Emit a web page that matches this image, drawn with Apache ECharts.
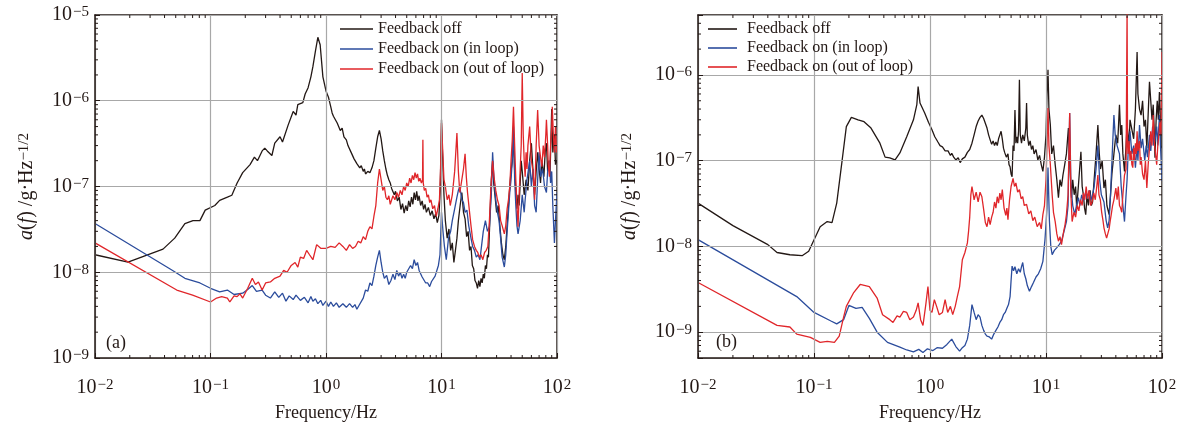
<!DOCTYPE html>
<html>
<head>
<meta charset="utf-8">
<script src="https://cdn.jsdelivr.net/npm/echarts@6/dist/echarts.min.js"></script>
<style>html,body{margin:0;padding:0;background:#fff}#c{width:1185px;height:423px}</style>
</head>
<body>
<div id="c"></div>
<script>
// ---------- data ----------
const seriesNames = ['Feedback off', 'Feedback on (in loop)', 'Feedback on (out of loop)'];
const panelLabels = ['(a)', '(b)'];
const xTitle = 'Frequency/Hz';
const xRange = [0.01, 100];
const yRangeA = [1e-9, 1e-5];
const yRangeB = [5e-10, 5e-6];
const xMinor = [0.02,0.03,0.04,0.05,0.06,0.07,0.08,0.09,0.2,0.3,0.4,0.5,0.6,0.7,0.8,0.9,2,3,4,5,6,7,8,9,20,30,40,50,60,70,80,90];
const yMinorA = [2e-9,3e-9,4e-9,5e-9,6e-9,7e-9,8e-9,9e-9,2e-8,3e-8,4e-8,5e-8,6e-8,7e-8,8e-8,9e-8,2e-7,3e-7,4e-7,5e-7,6e-7,7e-7,8e-7,9e-7,2e-6,3e-6,4e-6,5e-6,6e-6,7e-6,8e-6,9e-6];
const yMinorB = [6e-10,7e-10,8e-10,9e-10,2e-9,3e-9,4e-9,5e-9,6e-9,7e-9,8e-9,9e-9,2e-8,3e-8,4e-8,5e-8,6e-8,7e-8,8e-8,9e-8,2e-7,3e-7,4e-7,5e-7,6e-7,7e-7,8e-7,9e-7,2e-6,3e-6,4e-6];

// panel (a)
const offA = [[0.01,1.6e-8],[0.0193,1.31e-8],[0.0388,1.86e-8],[0.049,2.5e-8],[0.060,3.7e-8],[0.0705,4.0e-8],[0.081,4.0e-8],[0.09,5.3e-8],[0.109,6.0e-8],[0.12,6.9e-8],[0.14,7.5e-8],[0.153,7.9e-8],[0.17,1.1e-7],[0.19,1.45e-7],[0.22,1.8e-7],[0.24,2.2e-7],[0.255,2.0e-7],[0.28,2.6e-7],[0.295,2.8e-7],[0.31,2.6e-7],[0.34,2.3e-7],[0.36,3.2e-7],[0.40,3.8e-7],[0.42,3.3e-7],[0.47,5.2e-7],[0.52,7.5e-7],[0.55,6.8e-7],[0.57,9e-7],[0.63,9.5e-7],[0.66,1.2e-6],[0.70,1.42e-6],[0.74,1.9e-6],[0.77,2.5e-6],[0.81,3.8e-6],[0.85,5.5e-6],[0.89,4.5e-6],[0.94,1.9e-6],[1.0,1.3e-6],[1.05,1.1e-6],[1.1,8.5e-7],[1.13,7.2e-7],[1.16,6.6e-7],[1.2,6.9e-7],[1.25,5.5e-7],[1.29,5.8e-7],[1.33,4.5e-7],[1.38,4.8e-7],[1.43,3.8e-7],[1.5,3.5e-7],[1.55,3.0e-7],[1.6,3.1e-7],[1.65,2.5e-7],[1.7,2.4e-7],[1.75,2.1e-7],[1.8,2.2e-7],[1.85,1.85e-7],[1.9,1.9e-7],[1.96,1.65e-7],[2.02,1.75e-7],[2.1,1.5e-7],[2.15,1.6e-7],[2.2,1.4e-7],[2.3,1.5e-7],[2.4,1.45e-7],[2.5,1.65e-7],[2.6,2.0e-7],[2.7,2.8e-7],[2.8,3.8e-7],[2.9,4.5e-7],[3.0,3.6e-7],[3.1,2.6e-7],[3.2,2.0e-7],[3.3,1.6e-7],[3.4,1.35e-7],[3.5,1.2e-7],[3.6,1.1e-7],[3.7,9.5e-8],[3.8,1.0e-7],[3.9,8e-8],[4.0,8.8e-8],[4.15,6.8e-8],[4.3,7.5e-8],[4.45,5.4e-8],[4.6,6.3e-8],[4.75,4.9e-8],[4.9,6e-8],[5.05,5.2e-8],[5.2,6.8e-8],[5.35,5.8e-8],[5.5,7.5e-8],[5.65,6.2e-8],[5.8,8.5e-8],[5.95,7e-8],[6.1,8.8e-8],[6.25,6.8e-8],[6.4,7.8e-8],[6.6,6e-8],[6.8,6.8e-8],[7.0,5.4e-8],[7.2,6.2e-8],[7.4,5e-8],[7.7,5.7e-8],[8.0,4.6e-8],[8.3,5.2e-8],[8.6,4.2e-8],[8.9,4.8e-8],[9.2,3.8e-8],[9.5,4.6e-8],[9.75,9e-8],[10.0,6e-7],[10.2,2.5e-7],[10.5,8e-8],[10.8,4e-8],[11.2,2.5e-8],[11.6,3.2e-8],[12.0,1.8e-8],[12.4,2.2e-8],[12.8,1.3e-8],[13.2,1.8e-8],[13.6,2.5e-8],[14.0,4e-8],[14.5,6e-8],[15.0,8.5e-8],[15.5,5e-8],[16.0,4.2e-8],[16.5,2.6e-8],[17.0,3e-8],[17.5,1.8e-8],[18.0,2e-8],[18.5,1.2e-8],[19.0,1.1e-8],[19.5,8e-9],[20.0,7.5e-9],[20.5,6.5e-9],[21,8e-9],[21.5,6.8e-9],[22,8.5e-9],[22.5,7.5e-9],[23,9.5e-9],[23.5,8.5e-9],[24,1.2e-8],[24.5,1.1e-8],[25,1.6e-8],[25.5,1.5e-8],[26,3e-8],[26.5,6e-8],[27,1.2e-7],[27.7,2e-7],[28.3,1.1e-7],[29,8e-8],[30,5e-8],[31,6e-8],[32,3.5e-8],[33,2.2e-8],[34,1.6e-8],[35,1.4e-8],[36,2e-8],[37,3.5e-8],[38,6e-8],[39,1e-7],[40,1.5e-7],[41,2e-7],[42,4e-7],[43,1.5e-7],[44,9e-8],[45,5.5e-8],[46,8e-8],[47,6e-8],[48,1.1e-7],[49,2e-7],[50,1.5e-7],[52,8e-8],[54,1.2e-7],[56,9e-8],[58,2e-7],[60,3.2e-7],[62,1.5e-7],[64,8e-8],[66,1.5e-7],[68,2.5e-7],[70,1.6e-7],[72,1.1e-7],[74,2e-7],[77,1.3e-7],[79,2.5e-7],[81,3.2e-7],[83,1.5e-7],[85,2e-7],[87,1.4e-7],[90,8e-7],[92,2.5e-7],[95,4e-7],[97,1.8e-7],[100,2e-7]];
const inA = [[0.01,3.7e-8],[0.047,1.05e-8],[0.06,8.5e-9],[0.081,7.5e-9],[0.1,6.5e-9],[0.12,5.9e-9],[0.14,6.2e-9],[0.16,5.5e-9],[0.19,5.7e-9],[0.21,6.3e-9],[0.23,7e-9],[0.25,6.0e-9],[0.28,6.2e-9],[0.3,5.4e-9],[0.33,5e-9],[0.36,5.9e-9],[0.39,5.1e-9],[0.42,5.7e-9],[0.45,4.6e-9],[0.48,5.3e-9],[0.52,4.8e-9],[0.55,5.4e-9],[0.6,4.7e-9],[0.65,5.1e-9],[0.7,4.4e-9],[0.74,5.2e-9],[0.77,4.6e-9],[0.81,4.9e-9],[0.85,4.3e-9],[0.9,4.7e-9],[0.94,4.1e-9],[1.0,4.6e-9],[1.05,4.0e-9],[1.1,4.5e-9],[1.16,4.0e-9],[1.23,4.4e-9],[1.3,3.9e-9],[1.4,4.3e-9],[1.5,3.9e-9],[1.6,4.3e-9],[1.7,3.9e-9],[1.78,4.2e-9],[1.85,3.7e-9],[1.93,4.1e-9],[2.0,4.2e-9],[2.1,5e-9],[2.2,6.2e-9],[2.3,6e-9],[2.4,7.5e-9],[2.5,7e-9],[2.6,9e-9],[2.7,1.2e-8],[2.8,1.5e-8],[2.9,1.8e-8],[3.0,1.3e-8],[3.1,1e-8],[3.2,8.5e-9],[3.35,9.2e-9],[3.5,7.2e-9],[3.65,8e-9],[3.8,9.5e-9],[3.95,8.2e-9],[4.1,1.05e-8],[4.25,9e-9],[4.4,1e-8],[4.55,8.5e-9],[4.7,9.5e-9],[4.85,8.5e-9],[5.0,1e-8],[5.2,9.5e-9],[5.4,1.2e-8],[5.6,1.1e-8],[5.8,1.4e-8],[6.0,1.2e-8],[6.2,1.3e-8],[6.4,1.05e-8],[6.6,1.1e-8],[6.8,8.8e-9],[7.0,9.2e-9],[7.3,7.5e-9],[7.6,7.5e-9],[7.9,6.8e-9],[8.2,7.8e-9],[8.5,7.5e-9],[8.8,9e-9],[9.1,9e-9],[9.4,1.2e-8],[9.7,1.6e-8],[10,5e-8],[10.3,3e-8],[10.6,2e-8],[11,1.4e-8],[11.5,2.5e-8],[12,3e-8],[12.4,4e-8],[13,5.5e-8],[13.6,7.5e-8],[14,9e-8],[14.4,1e-7],[15,7e-8],[15.5,6.5e-8],[16,5e-8],[16.6,5.3e-8],[17.2,3.5e-8],[18,2.5e-8],[18.6,2e-8],[19.3,1.8e-8],[20,1.5e-8],[20.8,1.6e-8],[21.5,1.4e-8],[22.2,2e-8],[23,3e-8],[24,4e-8],[25,3e-8],[26,3.4e-8],[27,8e-8],[27.7,2.5e-7],[28.5,1.2e-7],[29.5,7e-8],[30.5,5e-8],[31.5,4e-8],[32.5,2.5e-8],[33.5,1.5e-8],[35,1.15e-8],[36,1.6e-8],[37,3e-8],[38,5e-8],[39,8.5e-8],[40,1.2e-7],[41,2e-7],[42,5e-7],[43,1.2e-7],[44,6e-8],[45,3.5e-8],[46,2.8e-8],[48,4e-8],[50,8e-8],[52,5e-8],[53,7e-8],[55,1.2e-7],[58,2e-7],[60,1e-7],[62,1.6e-7],[64,6e-8],[66,5e-8],[68,1.2e-7],[70,2.5e-7],[72,1.3e-7],[75,1.6e-7],[78,1e-7],[81,8.5e-8],[83,1.5e-7],[86,2e-7],[88,1.1e-7],[90,1.5e-7],[92,6e-8],[95,2.2e-8],[97,4e-8],[100,8.5e-8]];
const outA = [[0.01,2.2e-8],[0.051,6.2e-9],[0.07,5.4e-9],[0.1,4.5e-9],[0.113,5e-9],[0.125,5.2e-9],[0.14,5e-9],[0.147,4.5e-9],[0.16,5.3e-9],[0.17,5.2e-9],[0.18,5.6e-9],[0.19,5e-9],[0.21,6.5e-9],[0.23,8.5e-9],[0.245,7.2e-9],[0.26,7.7e-9],[0.28,6.2e-9],[0.3,7.5e-9],[0.33,7.7e-9],[0.36,8.5e-9],[0.40,9e-9],[0.43,1.05e-8],[0.46,1e-8],[0.5,1.2e-8],[0.54,1.3e-8],[0.57,1.15e-8],[0.6,1.5e-8],[0.64,1.45e-8],[0.68,1.8e-8],[0.72,1.6e-8],[0.77,1.4e-8],[0.83,2.1e-8],[0.9,1.9e-8],[1.0,1.9e-8],[1.1,2.0e-8],[1.2,1.95e-8],[1.3,2.2e-8],[1.4,2.0e-8],[1.5,1.8e-8],[1.6,2.1e-8],[1.7,1.9e-8],[1.8,2.0e-8],[1.9,2.3e-8],[2.0,2.2e-8],[2.1,2.6e-8],[2.2,2.4e-8],[2.3,3e-8],[2.4,3.4e-8],[2.5,3.2e-8],[2.6,4.5e-8],[2.7,6e-8],[2.8,1.1e-7],[2.9,1.6e-7],[3.0,1.2e-7],[3.1,9e-8],[3.2,1e-7],[3.3,7.5e-8],[3.4,7e-8],[3.5,7.8e-8],[3.6,6.2e-8],[3.7,6.5e-8],[3.8,7.8e-8],[3.95,7e-8],[4.1,8.5e-8],[4.25,7.5e-8],[4.4,9e-8],[4.55,8e-8],[4.7,1e-7],[4.85,9e-8],[5.0,1.1e-7],[5.15,1e-7],[5.3,1.25e-7],[5.45,1.1e-7],[5.6,1.35e-7],[5.75,1.2e-7],[5.9,1.45e-7],[6.05,1.25e-7],[6.2,1.4e-7],[6.35,1.15e-7],[6.5,1.25e-7],[6.7,1.1e-7],[6.85,1.2e-7],[6.9,3.5e-7],[6.95,1.1e-7],[7.1,9e-8],[7.3,9.5e-8],[7.5,7.5e-8],[7.7,8e-8],[7.9,6.5e-8],[8.1,7e-8],[8.4,5.5e-8],[8.7,6e-8],[9.0,4.5e-8],[9.3,5.5e-8],[9.6,7e-8],[9.8,1.5e-7],[10,5.5e-7],[10.2,3e-7],[10.5,1.2e-7],[10.8,1e-7],[11.2,7e-8],[11.6,8e-8],[11.9,6e-8],[12.4,8e-8],[13,1.5e-7],[13.6,4.2e-7],[14,1.5e-7],[14.4,8.5e-8],[15,1.2e-7],[15.5,1.6e-7],[16,2.4e-7],[16.4,1.3e-7],[16.8,8.5e-8],[17.5,5e-8],[18,3.5e-8],[18.6,2.4e-8],[19.3,2e-8],[20,1.8e-8],[20.6,1.7e-8],[21.3,1.5e-8],[22,1.6e-8],[22.8,1.4e-8],[23.6,1.7e-8],[24.4,1.8e-8],[25.2,2e-8],[26,4e-8],[26.8,1e-7],[27.7,2e-7],[28.5,1.3e-7],[29.5,9e-8],[30.5,7e-8],[31.5,6e-8],[32.5,4e-8],[33.5,3.5e-8],[35,2.8e-8],[36,3.5e-8],[37,5.5e-8],[38,7e-8],[39,1e-7],[40,2e-7],[41,3.5e-7],[42,8.5e-7],[43,3e-7],[44,1.2e-7],[45,6e-8],[46,3.4e-8],[47,8e-8],[48,1.6e-7],[49,3e-7],[50,2.1e-6],[51,4e-7],[52,2e-7],[53,1.3e-7],[54,2.5e-7],[55,1.6e-7],[56,3e-7],[58,5e-7],[60,2e-7],[62,1.5e-7],[64,7e-8],[65,1.5e-7],[66,3e-7],[68,7.8e-7],[70,3e-7],[72,2.2e-7],[74,1.7e-7],[76,3e-7],[78,2.2e-7],[80,4e-7],[81,6e-7],[83,3e-7],[84,1.8e-7],[86,1.3e-7],[88,3e-7],[90,5e-7],[91,8.5e-7],[93,4e-7],[95,2.5e-7],[97,5e-7],[99,2.5e-7],[100,3e-7]];

// panel (b)
const offB = [[0.01,3.2e-8],[0.02,1.75e-8],[0.04,1.05e-8],[0.048,8.5e-9],[0.062,8e-9],[0.079,7.8e-9],[0.09,8.8e-9],[0.113,1.7e-8],[0.13,1.95e-8],[0.143,1.9e-8],[0.157,3.2e-8],[0.175,1.02e-7],[0.19,2.5e-7],[0.21,3.2e-7],[0.24,3.0e-7],[0.27,2.85e-7],[0.31,2.4e-7],[0.37,1.6e-7],[0.41,1.1e-7],[0.45,1.08e-7],[0.5,1.02e-7],[0.55,1.23e-7],[0.63,1.9e-7],[0.72,3e-7],[0.77,4.5e-7],[0.79,7.3e-7],[0.82,4.7e-7],[0.9,3.6e-7],[0.97,2.8e-7],[1.04,2.3e-7],[1.1,1.9e-7],[1.17,1.65e-7],[1.22,1.5e-7],[1.28,1.45e-7],[1.35,1.3e-7],[1.43,1.3e-7],[1.5,1.15e-7],[1.54,1.22e-7],[1.6,1.1e-7],[1.67,1.02e-7],[1.75,1.08e-7],[1.82,9.5e-8],[1.9,1.05e-7],[2.0,1.1e-7],[2.1,1.25e-7],[2.2,1.35e-7],[2.3,1.6e-7],[2.4,2e-7],[2.5,2.5e-7],[2.6,2.9e-7],[2.7,3.2e-7],[2.8,3.4e-7],[2.9,3.1e-7],[3.0,3e-7],[3.1,2.4e-7],[3.2,2e-7],[3.3,1.75e-7],[3.4,1.55e-7],[3.5,1.7e-7],[3.6,1.5e-7],[3.7,1.65e-7],[3.8,1.5e-7],[3.9,1.8e-7],[4.0,2.0e-7],[4.1,2.2e-7],[4.2,1.8e-7],[4.3,1.4e-7],[4.4,1.25e-7],[4.55,1.1e-7],[4.7,1.2e-7],[4.8,9e-8],[4.9,8.5e-8],[5.0,7e-8],[5.1,6.5e-8],[5.2,1.5e-7],[5.3,1.3e-7],[5.4,3.9e-7],[5.5,1.6e-7],[5.6,1.9e-7],[5.7,1.6e-7],[5.8,2.2e-7],[5.9,8.8e-7],[6.0,2e-7],[6.15,1.6e-7],[6.3,2e-7],[6.5,1.7e-7],[6.7,2.4e-7],[6.8,4.7e-7],[6.9,2e-7],[7.1,1.5e-7],[7.3,1.7e-7],[7.5,1.35e-7],[7.7,1.5e-7],[7.9,1.2e-7],[8.2,1.35e-7],[8.5,1.02e-7],[8.8,1.15e-7],[9.1,9e-8],[9.4,7.5e-8],[9.7,1.1e-7],[10.0,2e-7],[10.2,6e-7],[10.4,1.15e-6],[10.6,4e-7],[10.9,2.6e-7],[11.2,1.2e-7],[11.6,1.5e-7],[12,9e-8],[12.4,6e-8],[12.8,3.7e-8],[13.2,6e-8],[13.6,5e-8],[14,6.8e-8],[14.5,9e-8],[15,1.2e-7],[15.6,2.4e-7],[16.1,8e-8],[16.6,3.7e-8],[17,6e-8],[17.5,4e-8],[18,5e-8],[18.4,2.8e-8],[19,5e-8],[19.5,8e-8],[20,1.27e-7],[20.5,5e-8],[21,4e-8],[21.5,2.8e-8],[22,2.35e-8],[22.6,4e-8],[23.2,3e-8],[24,4.5e-8],[24.6,3e-8],[25.2,3.3e-8],[26,6e-8],[27,1.2e-7],[28,2.6e-7],[28.8,1.2e-7],[29.5,8e-8],[30.5,1e-7],[31.6,4.8e-8],[32.5,6e-8],[33.5,3e-8],[35,2.35e-8],[36,4e-8],[37,7e-8],[38.5,1.2e-7],[40,2e-7],[41.5,1.6e-7],[43,4.5e-7],[44,2e-7],[45,2.6e-7],[46,1.2e-7],[47.5,7.5e-8],[49,1.5e-7],[50,2.6e-7],[52,1.5e-7],[53,3e-7],[55,3.1e-7],[57,1.8e-7],[59,4e-7],[61,1.85e-6],[62,6e-7],[64,4e-7],[66,3.4e-7],[68,5e-7],[70,2.5e-7],[72,3e-7],[74,1.4e-7],[76,3.5e-7],[78,8.3e-7],[80,5e-7],[82,3e-7],[84,4.5e-7],[86,2e-7],[87,1.08e-7],[89,3e-7],[91,5e-7],[93,3e-7],[95,6.3e-7],[97,3e-7],[98,1.5e-7],[100,1.4e-7]];
const inB = [[0.01,1.2e-8],[0.071,2.6e-9],[0.1,1.7e-9],[0.14,1.35e-9],[0.157,1.25e-9],[0.18,1.4e-9],[0.2,2.05e-9],[0.23,1.9e-9],[0.26,1.95e-9],[0.3,1.45e-9],[0.35,1e-9],[0.43,7.6e-10],[0.55,6.7e-10],[0.63,6.2e-10],[0.72,5.9e-10],[0.8,6.3e-10],[0.87,5.8e-10],[0.95,6.4e-10],[1.06,6.1e-10],[1.15,6.6e-10],[1.28,6.5e-10],[1.4,7.2e-10],[1.54,8.3e-10],[1.67,6.8e-10],[1.8,6e-10],[1.9,6.6e-10],[2.0,7e-10],[2.1,8.3e-10],[2.2,1.2e-9],[2.3,2.1e-9],[2.4,1.7e-9],[2.5,1.4e-9],[2.6,1.6e-9],[2.7,1.5e-9],[2.8,1.2e-9],[2.9,1.05e-9],[3.0,9.5e-10],[3.1,9e-10],[3.25,8.8e-10],[3.4,8.3e-10],[3.55,9.5e-10],[3.7,1.05e-9],[3.85,1.15e-9],[4.0,1.3e-9],[4.15,1.4e-9],[4.3,1.6e-9],[4.45,1.7e-9],[4.6,1.9e-9],[4.75,2.1e-9],[4.9,2.6e-9],[5.0,4e-9],[5.1,5.9e-9],[5.25,5.2e-9],[5.4,5.8e-9],[5.6,4.8e-9],[5.8,5.5e-9],[6.0,5e-9],[6.15,5.8e-9],[6.3,6.5e-9],[6.5,4.8e-9],[6.7,4.2e-9],[6.9,3.5e-9],[7.2,3e-9],[7.5,3.4e-9],[7.8,3.8e-9],[8.2,4.4e-9],[8.6,4.8e-9],[9.0,5.5e-9],[9.4,6.7e-9],[9.8,1.2e-8],[10.2,2.8e-8],[10.4,8.3e-8],[10.7,2e-8],[11,1e-8],[11.3,8e-9],[11.8,9e-9],[12.4,9.7e-9],[13,1.05e-8],[13.6,1.15e-8],[14.3,1.5e-8],[15,1.95e-8],[15.5,3e-8],[16,3.6e-7],[16.4,5e-8],[17,3e-8],[17.7,2.35e-8],[18.3,3e-8],[19,3.7e-8],[19.6,3e-8],[20.3,4e-8],[21,3.4e-8],[22,4.3e-8],[22.8,3.6e-8],[23.6,4.5e-8],[24.4,3.5e-8],[25.2,4e-8],[26,5e-8],[27,8e-8],[28,1.5e-7],[29,6e-8],[30,4e-8],[31.6,3.3e-8],[33,2e-8],[34,1.65e-8],[35,2e-8],[36,4e-8],[37.5,1.5e-7],[38.5,3.4e-7],[39.5,2e-7],[41,1.5e-7],[43,1.2e-7],[44.5,5e-8],[46,3e-8],[47.5,1.95e-8],[49,4e-8],[50,6e-8],[51,1.2e-7],[53,2.2e-7],[55,1.2e-7],[57,1.5e-7],[59,8.3e-8],[61,1.5e-7],[62,1e-7],[64,2.6e-7],[66,1.4e-7],[68,1.8e-7],[71,1e-7],[73,1.5e-7],[75,1.1e-7],[78,2e-7],[80,1.3e-7],[83,2.5e-7],[85,1.5e-7],[87,1.7e-7],[90,2.5e-7],[92,1.5e-7],[95,3.4e-7],[97,1.5e-7],[100,5.8e-8]];
const outB = [[0.01,3.8e-9],[0.048,1.2e-9],[0.062,1.15e-9],[0.071,9.5e-10],[0.093,8.7e-10],[0.113,7.6e-10],[0.13,7.8e-10],[0.15,7.6e-10],[0.165,9e-10],[0.18,1.5e-9],[0.19,2e-9],[0.22,2.9e-9],[0.25,3.6e-9],[0.3,3.4e-9],[0.35,2.5e-9],[0.39,1.6e-9],[0.45,1.4e-9],[0.48,1.3e-9],[0.52,1.55e-9],[0.55,1.5e-9],[0.59,1.75e-9],[0.63,1.7e-9],[0.67,1.4e-9],[0.72,1.5e-9],[0.76,1.8e-9],[0.79,2.2e-9],[0.83,1.4e-9],[0.87,1.2e-9],[0.92,2.1e-9],[0.96,3.4e-9],[1.0,1.8e-9],[1.04,1.7e-9],[1.09,2.4e-9],[1.14,2e-9],[1.2,1.6e-9],[1.28,1.7e-9],[1.35,2.4e-9],[1.42,1.7e-9],[1.5,2e-9],[1.57,1.6e-9],[1.65,2e-9],[1.72,2.6e-9],[1.8,3.4e-9],[1.9,7e-9],[2.0,8.5e-9],[2.1,1.1e-8],[2.15,1.5e-8],[2.2,2.2e-8],[2.25,4e-8],[2.3,5e-8],[2.35,4.2e-8],[2.4,3.5e-8],[2.5,4.3e-8],[2.6,3.3e-8],[2.7,4.3e-8],[2.8,3.8e-8],[2.9,2.7e-8],[3.0,1.9e-8],[3.1,1.7e-8],[3.2,2.2e-8],[3.3,1.8e-8],[3.4,2.2e-8],[3.5,2.5e-8],[3.6,3.3e-8],[3.7,2.8e-8],[3.8,3.8e-8],[3.9,3.2e-8],[4.0,4.2e-8],[4.1,3.5e-8],[4.2,4.6e-8],[4.35,2.8e-8],[4.5,2.3e-8],[4.6,2.8e-8],[4.7,2.05e-8],[4.85,3.5e-8],[5.0,5e-8],[5.2,6.2e-8],[5.35,5e-8],[5.5,5.5e-8],[5.7,4.3e-8],[5.9,4.6e-8],[6.1,3.6e-8],[6.3,3.8e-8],[6.5,3e-8],[6.8,3.1e-8],[7.1,2.4e-8],[7.4,2.6e-8],[7.7,2.0e-8],[8.0,2.2e-8],[8.4,1.7e-8],[8.8,1.9e-8],[9.1,1.6e-8],[9.4,2.35e-8],[9.7,3e-8],[10.0,6e-8],[10.2,1.5e-7],[10.4,4.1e-7],[10.6,1.5e-7],[10.9,9e-8],[11.3,4e-8],[11.6,2.5e-8],[12,1.95e-8],[12.4,1.4e-8],[12.8,1.15e-8],[13.2,1.3e-8],[13.6,1.05e-8],[14.2,1.5e-8],[14.6,1.8e-8],[15,2.35e-8],[15.5,4e-8],[16,3.6e-7],[16.4,4e-8],[16.8,1.95e-8],[17.4,2.5e-8],[18,2.2e-8],[18.6,3e-8],[19.2,2.6e-8],[19.8,3.5e-8],[20.5,3e-8],[21,4.2e-8],[21.6,3.5e-8],[22.2,5e-8],[22.8,3.6e-8],[23.5,4.5e-8],[24.2,3e-8],[25,3.3e-8],[25.8,4.2e-8],[26.6,3.5e-8],[27.4,5e-8],[28,6.8e-8],[28.6,4e-8],[29.4,3.5e-8],[30.2,2.5e-8],[31,2e-8],[31.6,1.65e-8],[32.5,1.4e-8],[33.3,1.25e-8],[34,1.25e-8],[35,1.6e-8],[35.8,2e-8],[36.5,2.35e-8],[37.5,3e-8],[38.5,3.5e-8],[40,4.8e-8],[41,3.5e-8],[42,5e-8],[43,3e-8],[44,2.8e-8],[45,2.5e-8],[46,4e-8],[47.5,6.8e-8],[49,8e-8],[50,6e-6],[50.5,1.5e-7],[51,1.2e-7],[52,1.7e-7],[53,1e-7],[54,1.3e-7],[55,9e-8],[56,8.3e-8],[57,1.4e-7],[58,1e-7],[59,1.6e-7],[60,1.2e-7],[61,2.2e-7],[62,1.3e-7],[64,1.7e-7],[65,9e-8],[66,1.1e-7],[68,7e-8],[70,6e-8],[72,1e-7],[74,4.8e-8],[76,9e-8],[78,1.4e-7],[80,2.2e-7],[82,1.5e-7],[84,3.4e-7],[86,1.6e-7],[88,1.2e-7],[90,9e-8],[92,1.5e-7],[94,2e-7],[96,2.8e-7],[98,2e-7],[100,1.85e-6]];

// ---------- styling ----------
const FONT = 'Liberation Serif';
const INK = '#231815';
const COLORS = ['#231815', '#2b4c9c', '#e0262a'];
const GRIDC = '#a8a8a8';

function sup(v) {
  const e = Math.log10(v), r = Math.round(e);
  if (Math.abs(e - r) > 1e-6) return '';
  return '{b|10}{s|' + (r < 0 ? '\u2212' + (-r) : r) + '}';
}
const labRich = {
  b: {fontFamily: FONT, fontSize: 20, color: INK, verticalAlign: 'middle', lineHeight: 20},
  s: {fontFamily: FONT, fontSize: 15, color: INK, verticalAlign: 'top', lineHeight: 12, padding: [0, 0, 0, 1]}
};

function axesFor(dim, grid, range) {
  const isX = dim === 'x';
  const base = {type: 'log', logBase: 10, gridIndex: grid, min: range[0], max: range[1]};
  const tick = {show: true, inside: true, length: 5, lineStyle: {color: INK, width: 1}};
  const line = {show: true, onZero: false, lineStyle: {color: INK, width: 1.5}};
  const main = Object.assign({}, base, {
    position: isX ? 'bottom' : 'left',
    axisLine: line, axisTick: tick,
    splitLine: {show: true, lineStyle: {color: GRIDC, width: 1.2}},
    axisLabel: {show: true, formatter: sup, rich: labRich, margin: isX ? 20 : 6, color: INK},
    z: 3
  });
  if (isX) {
    Object.assign(main, {name: xTitle, nameLocation: 'middle', nameGap: 46,
      nameTextStyle: {fontFamily: FONT, fontSize: 18, color: INK}});
  } else {
    Object.assign(main, {name: '{i|a}{r|(}{i|f}{r|) /g\u00b7Hz}{s|\u22121/2}', nameLocation: 'middle', nameGap: 58, nameRotate: 90,
      nameTextStyle: {rich: {
        i: {fontFamily: FONT, fontStyle: 'italic', fontSize: 20, color: INK, verticalAlign: 'middle', lineHeight: 20},
        r: {fontFamily: FONT, fontSize: 20, color: INK, verticalAlign: 'middle', lineHeight: 20},
        s: {fontFamily: FONT, fontSize: 15, color: INK, verticalAlign: 'top', lineHeight: 12}
      }}});
  }
  const opp = Object.assign({}, base, {position: isX ? 'top' : 'right', axisLine: line, axisTick: tick,
    axisLabel: {show: false}, splitLine: {show: false}});
  return [main, opp];
}

const xAxis = [].concat(axesFor('x', 0, xRange), axesFor('x', 1, xRange));
const yAxis = [].concat(axesFor('y', 0, yRangeA), axesFor('y', 1, yRangeB));

function mk(name, data, idx, color, w) {
  return {name: name, type: 'line', data: data, xAxisIndex: idx, yAxisIndex: idx,
    showSymbol: false, symbol: 'none', lineStyle: {color: color, width: w}, itemStyle: {color: color},
    emphasis: {disabled: true}, z: 2};
}

// minor ticks on all four sides, placed through the axes' own log scales
function minorTicks(idx, xr, yr, yMinor) {
  const data = xMinor.map(v => [v, yr[0], 0]).concat(yMinor.map(v => [xr[0], v, 1]));
  return {
    type: 'custom', xAxisIndex: idx, yAxisIndex: idx, silent: true, clip: false, z: 5,
    data: data,
    renderItem: function (params, api) {
      const cs = params.coordSys;
      const p = api.coord([api.value(0), api.value(1)]);
      const st = {stroke: INK, lineWidth: 1};
      const L = 3;
      if (api.value(2) === 0) {
        const x = p[0], yb = cs.y + cs.height, yt = cs.y;
        return {type: 'group', children: [
          {type: 'line', shape: {x1: x, y1: yb, x2: x, y2: yb - L}, style: st},
          {type: 'line', shape: {x1: x, y1: yt, x2: x, y2: yt + L}, style: st}
        ]};
      }
      const y = p[1], xl = cs.x, xr2 = cs.x + cs.width;
      return {type: 'group', children: [
        {type: 'line', shape: {x1: xl, y1: y, x2: xl + L, y2: y}, style: st},
        {type: 'line', shape: {x1: xr2, y1: y, x2: xr2 - L, y2: y}, style: st}
      ]};
    }
  };
}

const series = [
  mk(seriesNames[0], offA, 0, COLORS[0], 1.3),
  mk(seriesNames[1], inA, 0, COLORS[1], 1.3),
  mk(seriesNames[2], outA, 0, COLORS[2], 1.3),
  mk(seriesNames[0], offB, 2, COLORS[0], 1.3),
  mk(seriesNames[1], inB, 2, COLORS[1], 1.3),
  mk(seriesNames[2], outB, 2, COLORS[2], 1.3),
  minorTicks(0, xRange, yRangeA, yMinorA),
  minorTicks(2, xRange, yRangeB, yMinorB)
];

const legendBase = {orient: 'vertical', icon: 'rect', itemWidth: 33, itemHeight: 1.6, itemGap: 4, padding: 0,
  selectedMode: false, data: seriesNames,
  textStyle: {fontFamily: FONT, fontSize: 16, color: INK}};

const chart = echarts.init(document.getElementById('c'), null, {renderer: 'canvas'});
chart.setOption({
  animation: false,
  backgroundColor: '#fff',
  grid: [
    {left: 95, top: 15, width: 462, height: 343, outerBoundsMode: 'none', containLabel: false},
    {left: 698, top: 15, width: 464, height: 343, outerBoundsMode: 'none', containLabel: false}
  ],
  xAxis: xAxis,
  yAxis: yAxis,
  legend: [
    Object.assign({}, legendBase, {left: 340, top: 21}),
    Object.assign({}, legendBase, {left: 708, top: 21, itemWidth: 29, itemGap: 3,
      textStyle: {fontFamily: FONT, fontSize: 16, color: INK, padding: [0, 0, 0, 5]}})
  ],
  graphic: [
    {type: 'text', left: 106, top: 334, style: {text: panelLabels[0], fontFamily: FONT, fontSize: 18, fill: INK}},
    {type: 'text', left: 716, top: 333, style: {text: panelLabels[1], fontFamily: FONT, fontSize: 18, fill: INK}}
  ],
  series: series
});
</script>
</body>
</html>
